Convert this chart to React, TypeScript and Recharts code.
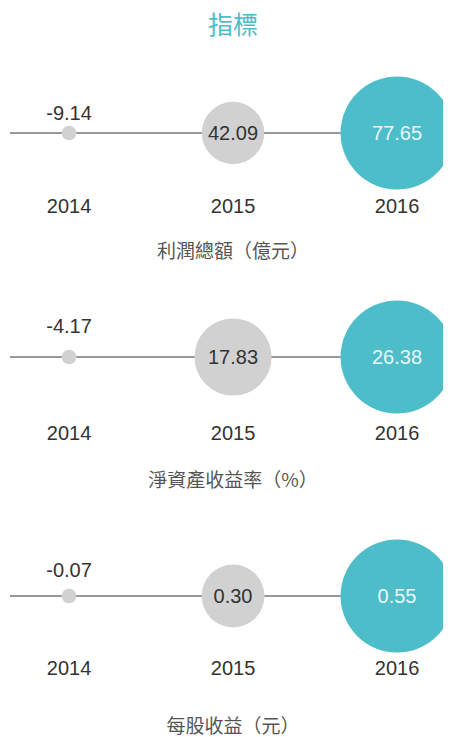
import { ScatterChart, Scatter, XAxis, YAxis, ZAxis, ReferenceLine } from "recharts";

const YEARS = [2014, 2015, 2016];
const PROFIT = [-9.14, 42.09, 77.65];
const ROE = [-4.17, 17.83, 26.38];
const EPS = [-0.07, 0.3, 0.55];
const CAPTIONS = ["利潤總額（億元）", "淨資產收益率（%）", "每股收益（元）"];
const TITLE = "指標";

const TEAL = "#4dbdc9";
const BUBBLE_FILL = ["#d1d1d1", "#d1d1d1", TEAL];
const BUBBLE_TEXT = ["#333333", "#333333", "#eaf7f9"];
const NUM_FONT = '"Liberation Sans", Arial, sans-serif';
const CJK_FONT = '"Noto Sans CJK TC", "Noto Sans CJK SC", sans-serif';

// panel layout, in wrapper coords (page minus 8px body margin)
const PANELS = [
  { values: PROFIT, lineY: 124, lift: 20, yearGap: 73, captionY: 242 },
  { values: ROE, lineY: 348, lift: 31, yearGap: 76, captionY: 471 },
  { values: EPS, lineY: 587, lift: 26, yearGap: 72, captionY: 717 },
];

const buildRows = (values: number[]) =>
  YEARS.map((year, i) => ({
    year,
    y: 0,
    z: Math.max(values[i], 0) ** 2,
    value: values[i],
    label: values[i].toFixed(2),
    idx: i,
  }));

function makeBubble(lift: number) {
  return (props: any) => {
    const { cx, cy, payload } = props;
    const r = props.width ? props.width / 2 : Math.sqrt((props.size ?? 64) / Math.PI);
    const i = payload.idx;
    const ly = payload.value < 0 ? cy - lift : cy;
    return (
      <g>
        <circle cx={cx} cy={cy} r={r} fill={BUBBLE_FILL[i]} />
        <text
          x={cx}
          y={ly}
          dy="0.35em"
          textAnchor="middle"
          fontSize={20}
          fontFamily={NUM_FONT}
          fill={BUBBLE_TEXT[i]}
        >
          {payload.label}
        </text>
      </g>
    );
  };
}

function Panel({ values, lineY, lift, yearGap, captionY, caption }: any) {
  const rows = buildRows(values);
  return (
    <>
      <div style={{ position: "absolute", left: 0, top: lineY - 70 + 0.5 }}>
        <ScatterChart width={443} height={170} margin={{ top: 10, right: 0, bottom: 0, left: 2 }}>
          <XAxis
            type="number"
            dataKey="year"
            domain={[2013.64, 2016.329]}
            ticks={YEARS}
            height={40}
            axisLine={false}
            tickLine={false}
            tickSize={0}
            tickMargin={yearGap - 60 - 7}
            tick={{ fill: "#333", fontSize: 20, fontFamily: NUM_FONT }}
          />
          <YAxis type="number" dataKey="y" domain={[-1, 1]} hide />
          <ZAxis type="number" dataKey="z" domain={[0, "dataMax"]} range={[167, 10030]} />
          <ReferenceLine y={0} stroke="#333" strokeWidth={1} />
          <Scatter data={rows} shape={makeBubble(lift)} isAnimationActive={false} />
        </ScatterChart>
      </div>
      <div
        style={{
          position: "absolute",
          left: 0,
          width: 450,
          top: captionY - 14,
          height: 28,
          lineHeight: "28px",
          textAlign: "center",
          fontFamily: CJK_FONT,
          fontSize: 19,
          color: "#555",
        }}
      >
        {caption}
      </div>
    </>
  );
}

export default function App() {
  return (
    <div style={{ position: "relative", width: 443, height: 729 }}>
      <div
        style={{
          position: "absolute",
          left: 0,
          top: 0,
          width: 450,
          height: 30,
          lineHeight: "30px",
          textAlign: "center",
          fontFamily: CJK_FONT,
          fontSize: 25,
          color: TEAL,
        }}
      >
        {TITLE}
      </div>
      {PANELS.map((p, i) => (
        <Panel key={i} {...p} caption={CAPTIONS[i]} />
      ))}
    </div>
  );
}
